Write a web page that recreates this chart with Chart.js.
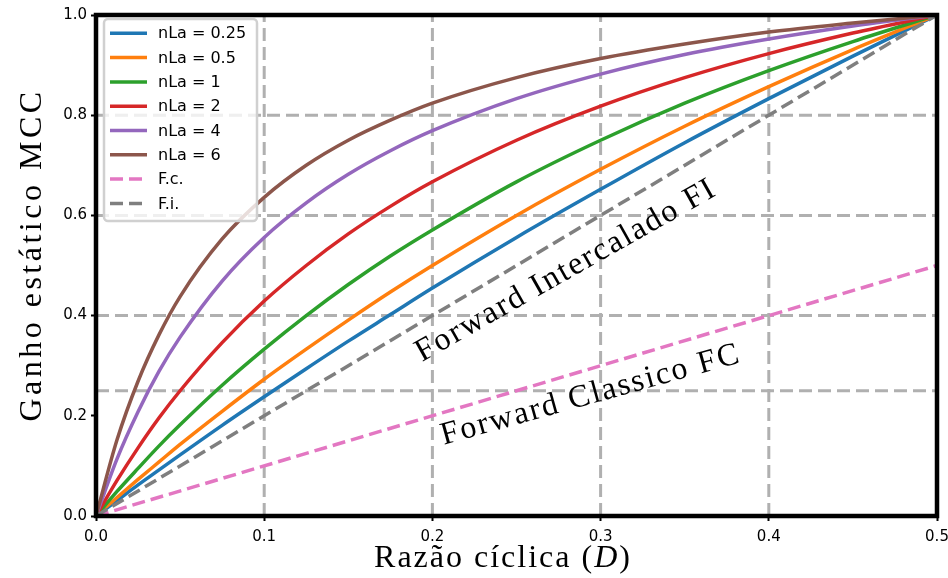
<!DOCTYPE html>
<html>
<head>
<meta charset="utf-8">
<script src="https://cdn.jsdelivr.net/npm/chart.js@4"></script>
<style>
  html, body { margin: 0; padding: 0; background: #fff; }
</style>
</head>
<body>
<canvas id="gainChart" width="948" height="578"></canvas>
<script>
// Duty cycle (x) and static gain
const dutyCycle = [0, 0.0125, 0.025, 0.0375, 0.05, 0.075, 0.1, 0.125, 0.15, 0.175, 0.2, 0.25, 0.3, 0.35, 0.4, 0.45, 0.5];
const gainNla025 = [0, 0.031, 0.062, 0.092, 0.122, 0.181, 0.238, 0.294, 0.349, 0.402, 0.455, 0.556, 0.652, 0.745, 0.833, 0.918, 1.0];
const gainNla05 = [0, 0.037, 0.073, 0.108, 0.143, 0.209, 0.273, 0.333, 0.391, 0.447, 0.5, 0.6, 0.692, 0.778, 0.857, 0.931, 1.0];
const gainNla1 = [0, 0.049, 0.095, 0.14, 0.182, 0.261, 0.333, 0.4, 0.462, 0.519, 0.571, 0.667, 0.75, 0.824, 0.889, 0.947, 1.0];
const gainNla2 = [0, 0.071, 0.136, 0.196, 0.25, 0.346, 0.429, 0.5, 0.563, 0.618, 0.667, 0.75, 0.818, 0.875, 0.923, 0.964, 1.0];
const gainNla4 = [0, 0.114, 0.208, 0.289, 0.357, 0.469, 0.556, 0.625, 0.682, 0.729, 0.769, 0.833, 0.882, 0.921, 0.952, 0.978, 1.0];
const gainNla6 = [0, 0.152, 0.269, 0.362, 0.438, 0.553, 0.636, 0.7, 0.75, 0.79, 0.824, 0.875, 0.913, 0.942, 0.966, 0.984, 1.0];

// reference lines (straight, two end points)
const refDuty = [0, 0.5];
const gainFc = [0, 0.5];
const gainFi = [0, 1.0];

// dashed guide lines
const guideX = [0.1, 0.2, 0.3, 0.4];
const guideY = [0.25, 0.4, 0.6, 0.8];

// ticks
const xTicks = [0, 0.1, 0.2, 0.3, 0.4, 0.5];
const yTicks = [0, 0.2, 0.4, 0.6, 0.8, 1.0];

const curveLabels = ["nLa = 0.25", "nLa = 0.5", "nLa = 1", "nLa = 2", "nLa = 4", "nLa = 6"];
const curveGains = [gainNla025, gainNla05, gainNla1, gainNla2, gainNla4, gainNla6];
const curveColors = ["#1f77b4", "#ff7f0e", "#2ca02c", "#d62728", "#9467bd", "#8c564b"];

const toPoints = (xs, ys) => xs.map((x, i) => ({ x: x, y: ys[i] }));

const datasets = [];

// guide lines first, drawn underneath
guideX.forEach((gx) => {
  datasets.push({
    data: [{ x: gx, y: 0 }, { x: gx, y: 1 }],
    borderColor: "#b0b0b0",
    borderWidth: 3,
    borderDash: [13, 6],
    pointRadius: 0,
    order: 20,
    guide: true,
  });
});
guideY.forEach((gy) => {
  datasets.push({
    data: [{ x: 0, y: gy }, { x: 0.5, y: gy }],
    borderColor: "#b0b0b0",
    borderWidth: 3,
    borderDash: [13, 6],
    pointRadius: 0,
    order: 20,
    guide: true,
  });
});

curveGains.forEach((g, i) => {
  datasets.push({
    label: curveLabels[i],
    data: toPoints(dutyCycle, g),
    borderColor: curveColors[i],
    borderWidth: 3.5,
    pointRadius: 0,
    cubicInterpolationMode: "monotone",
    order: 10 - i,
  });
});

datasets.push({
  label: "F.c.",
  data: toPoints(refDuty, gainFc),
  borderColor: "#e377c2",
  borderWidth: 3.5,
  borderDash: [13, 6],
  pointRadius: 0,
  order: 2,
});
datasets.push({
  label: "F.i.",
  data: toPoints(refDuty, gainFi),
  borderColor: "#7f7f7f",
  borderWidth: 3.5,
  borderDash: [13, 6],
  pointRadius: 0,
  order: 1,
});

// text annotations in data coords
const fiLabel = { text: "Forward Intercalado FI", x: 0.282, y: 0.475, angle: -29.5 };
const fcLabel = { text: "Forward Classico FC", x: 0.2955, y: 0.225, angle: -15.5 };

const SERIF = '32px "Liberation Serif"';

function serifText(ctx, text, x, y, angleDeg, spacing) {
  ctx.save();
  ctx.translate(x, y);
  ctx.rotate((angleDeg * Math.PI) / 180);
  ctx.font = SERIF;
  ctx.letterSpacing = spacing || "2px";
  ctx.fillStyle = "#000";
  ctx.textAlign = "center";
  ctx.textBaseline = "alphabetic";
  ctx.fillText(text, 0, 0);
  ctx.restore();
}

const decorations = {
  id: "decorations",
  afterDraw(chart) {
    const ctx = chart.ctx;
    const area = chart.chartArea;
    const xs = chart.scales.x;
    const ys = chart.scales.y;

    // annotations
    [fiLabel, fcLabel].forEach((l) => {
      serifText(ctx, l.text, xs.getPixelForValue(l.x), ys.getPixelForValue(l.y), l.angle);
    });

    // frame
    ctx.save();
    ctx.strokeStyle = "#000";
    ctx.lineWidth = 4.5;
    ctx.strokeRect(area.left, area.top, area.right - area.left, area.bottom - area.top);
    ctx.restore();

    // y title
    serifText(ctx, "Ganho estático MCC", 41, 255, -90, "3.5px");

    // x title with italic D
    ctx.save();
    ctx.fillStyle = "#000";
    ctx.textBaseline = "alphabetic";
    ctx.letterSpacing = "2px";
    const parts = [
      ["Razão cíclica (", SERIF],
      ["D", 'italic 32px "Liberation Serif"'],
      [")", SERIF],
    ];
    let total = 0;
    parts.forEach((p) => {
      ctx.font = p[1];
      total += ctx.measureText(p[0]).width;
    });
    let px = 503 - total / 2;
    ctx.textAlign = "left";
    parts.forEach((p) => {
      ctx.font = p[1];
      ctx.fillText(p[0], px, 567);
      px += ctx.measureText(p[0]).width;
    });
    ctx.restore();

    // legend box
    ctx.save();
    ctx.beginPath();
    ctx.roundRect(104, 19, 153, 202, 4);
    ctx.fillStyle = "rgba(255,255,255,0.8)";
    ctx.fill();
    ctx.strokeStyle = "#d0d0d0";
    ctx.lineWidth = 2.5;
    ctx.stroke();
    const items = chart.data.datasets.filter((d) => !d.guide);
    ctx.font = '16px "DejaVu Sans"';
    ctx.textBaseline = "middle";
    ctx.textAlign = "left";
    items.forEach((d, i) => {
      const y = 33.3 + i * 24.3;
      ctx.beginPath();
      ctx.setLineDash(d.borderDash || []);
      ctx.strokeStyle = d.borderColor;
      ctx.lineWidth = 3.5;
      ctx.moveTo(110, y);
      ctx.lineTo(147, y);
      ctx.stroke();
      ctx.setLineDash([]);
      ctx.fillStyle = "#000";
      ctx.fillText(d.label, 158, y + 1);
    });
    ctx.restore();
  },
};

new Chart(document.getElementById("gainChart"), {
  type: "line",
  data: { datasets: datasets },
  options: {
    responsive: false,
    animation: false,
    layout: { padding: { top: 15, right: 11, left: 0, bottom: 0 } },
    plugins: {
      legend: { display: false },
      tooltip: { enabled: false },
    },
    scales: {
      x: {
        type: "linear",
        min: 0,
        max: 0.5,
        afterBuildTicks: (scale) => {
          scale.ticks = xTicks.map((v) => ({ value: v }));
        },
        afterFit: (scale) => {
          scale.height = 62;
          scale.paddingLeft = 0;
          scale.paddingRight = 0;
        },
        ticks: {
          color: "#000",
          font: { family: "DejaVu Sans", size: 15 },
          padding: 7,
          maxRotation: 0,
          callback: (v) => v.toFixed(1),
        },
        grid: {
          drawOnChartArea: false,
          drawTicks: true,
          tickLength: 5,
          tickWidth: 2,
          tickColor: "#000",
        },
        border: { display: false },
      },
      y: {
        type: "linear",
        min: 0,
        max: 1,
        afterBuildTicks: (scale) => {
          scale.ticks = yTicks.map((v) => ({ value: v }));
        },
        afterFit: (scale) => {
          scale.width = 96;
          scale.paddingTop = 0;
          scale.paddingBottom = 0;
        },
        ticks: {
          color: "#000",
          font: { family: "DejaVu Sans", size: 15 },
          padding: 4,
          callback: (v) => v.toFixed(1),
        },
        grid: {
          drawOnChartArea: false,
          drawTicks: true,
          tickLength: 5,
          tickWidth: 2,
          tickColor: "#000",
        },
        border: { display: false },
      },
    },
  },
  plugins: [decorations],
});
</script>
</body>
</html>
